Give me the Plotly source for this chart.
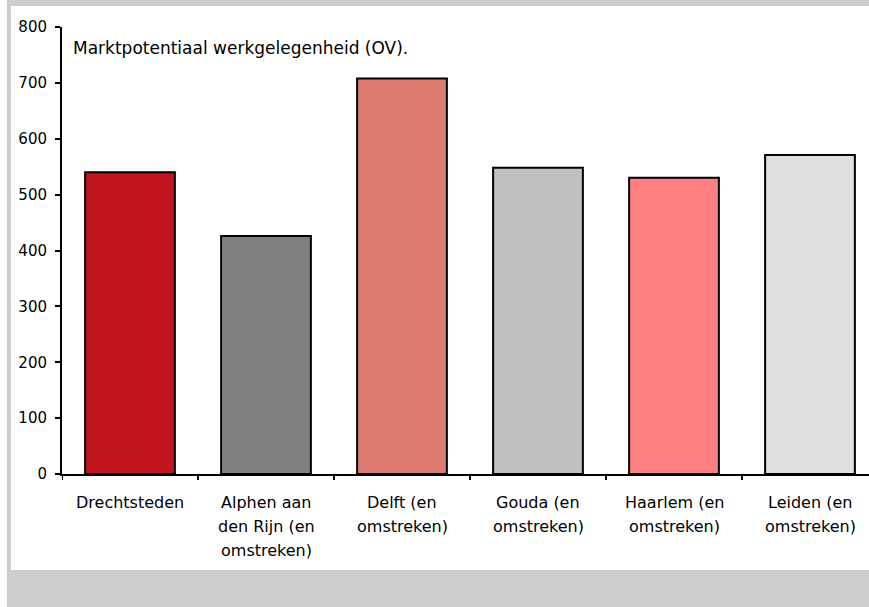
import plotly.graph_objects as go

categories = ["Drechtsteden", "Alphen aan<br>den Rijn (en<br>omstreken)", "Delft (en<br>omstreken)",
              "Gouda (en<br>omstreken)", "Haarlem (en<br>omstreken)", "Leiden (en<br>omstreken)"]
values = [540, 426, 708, 548, 530, 571]
colors = ["#C1141F", "#808080", "#DC7B70", "#C0C0C0", "#FF8080", "#DFDFDF"]
y_ticks = [0, 100, 200, 300, 400, 500, 600, 700, 800]
title_text = "Marktpotentiaal werkgelegenheid (OV)."

W, H = 869, 607
L, R, T, B = 62, 0, 27, 133
pw, ph = W - L - R, H - T - B

def px(x):
    return (x - L) / pw

def py(y):
    return (H - B - y) / ph

xs = list(range(len(categories)))
fig = go.Figure(go.Bar(
    x=xs, y=values,
    marker=dict(color=colors, line=dict(color="black", width=2)),
    width=0.66,
))

font = "DejaVu Sans, sans-serif"
annotations = [dict(text=title_text, xref="paper", yref="paper",
                    x=px(71), y=py(48), xanchor="left", yanchor="middle",
                    showarrow=False, font=dict(size=17))]
# category labels, one line per annotation to match the wider line spacing
for xi, cat in zip(xs, categories):
    for j, line in enumerate(cat.split("<br>")):
        annotations.append(dict(text=line, xref="x", yref="paper",
                                x=xi, y=py(502 + 24.3 * j), xanchor="center", yanchor="middle",
                                showarrow=False, font=dict(size=16)))

fig.update_layout(
    width=W, height=H,
    margin=dict(l=L, r=R, t=T, b=B, pad=0),
    paper_bgcolor="white", plot_bgcolor="rgba(0,0,0,0)",
    showlegend=False,
    font=dict(family=font, size=15, color="black"),
    xaxis=dict(
        tickmode="array", tickvals=xs, ticktext=categories, showticklabels=False,
        range=[-0.5, 5.5 - 9 / 136], showgrid=False, zeroline=False,
        showline=True, linecolor="black", linewidth=2, ticks="",
    ),
    yaxis=dict(
        range=[0, 800], tickvals=y_ticks, showgrid=False, zeroline=False,
        showline=True, linecolor="black", linewidth=2,
        ticks="outside", ticklen=5, tickwidth=2, tickcolor="black",
        tickfont=dict(size=15), ticklabelstandoff=5,
    ),
    shapes=[
        dict(type="rect", xref="paper", yref="paper", layer="below",
             x0=px(7), x1=px(W + 5), y0=py(H + 5), y1=py(-5),
             fillcolor="#CCCCCC", line=dict(width=0)),
        dict(type="rect", xref="paper", yref="paper", layer="below",
             x0=px(11), x1=px(W + 5), y0=py(570), y1=py(6),
             fillcolor="white", line=dict(width=0)),
    ],
    annotations=annotations,
)

# category boundary ticks on x axis
for i in range(len(categories) + 1):
    fig.add_shape(type="line", xref="x", yref="paper",
                  x0=i - 0.5, x1=i - 0.5, y0=0, y1=py(H - B + 6),
                  line=dict(color="black", width=2))

fig.write_html("out.html", config={"displayModeBar": False})

# remove default body margin so the figure sits at the window origin
with open("out.html", "r", encoding="utf-8") as f:
    html = f.read()
html = html.replace("<head>", "<head><style>html,body{margin:0;padding:0;overflow:hidden;}</style>", 1)
with open("out.html", "w", encoding="utf-8") as f:
    f.write(html)
